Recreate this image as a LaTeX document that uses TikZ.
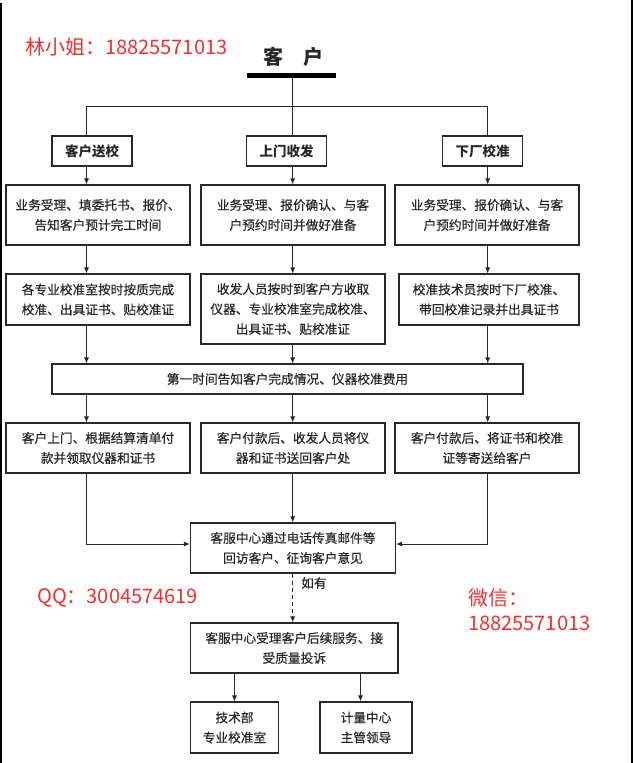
\documentclass[tikz,border=0pt]{standalone}
\usepackage{fontspec}
\setmainfont{Noto Sans CJK SC}
\newfontfamily\bodycjk[FakeBold=0.35]{Noto Sans CJK SC}
\usetikzlibrary{arrows.meta}
\definecolor{wm}{RGB}{242,48,48}
\definecolor{ink}{RGB}{40,40,40}
\begin{document}
\begin{tikzpicture}[x=1pt,y=-1pt,
  box/.style={draw=ink, line width=1.1pt, fill=white, inner sep=0pt, align=center,
    font=\bodycjk\fontsize{12.7}{20}\selectfont, text=ink},
  titlebox/.style={box, minimum width=80pt, minimum height=30pt, font=\fontsize{13.5}{16}\selectfont\bfseries},
  colbox/.style={box, minimum width=184pt},
  ln/.style={draw=ink, line width=0.9pt},
  arr/.style={ln, -{Latex[length=6pt,width=5pt]}},
  redt/.style={text=wm, inner sep=0pt, anchor=west, font=\fontsize{20}{24}\selectfont},
]
\useasboundingbox (0,0) rectangle (633,763);
\fill[white] (0,0) rectangle (633,763);
\fill[black] (0,3) rectangle (1.5,763);
\fill[black] (631,0) rectangle (633,763);

% column coordinates
\coordinate (c1) at (86.5,0);
\coordinate (c2) at (292.7,0);
\coordinate (c3) at (487.7,0);
\coordinate (split) at (292.7,106);

% watermark texts
\node[redt] (lin) at (25,47) {林小姐：18825571013};
\node[redt] (qq) at (37,598) {QQ：3004574619};
\node[redt] (wx) at (468,598) {微信：};
\node[redt] (wxn) at (468,623) {18825571013};

% title
\node[font=\fontsize{20}{24}\selectfont\bfseries, text=ink, inner sep=0pt] (kehu) at (293,57) {客\quad 户};
\node[fill=black, minimum width=89pt, minimum height=5pt, inner sep=0pt] (bar) at (291.5,75.5) {};

% top boxes
\node[titlebox] (b1) at (92,151) {客户送校};
\node[titlebox] (b2) at (286.5,151) {上门收发};
\node[titlebox] (b3) at (482.5,151) {下厂校准};

% row 2
\node[colbox, minimum height=60pt] (r2a) at (98,215) {业务受理、填委托书、报价、\\告知客户预计完工时间};
\node[colbox, minimum height=60pt] (r2b) at (293,215) {业务受理、报价确认、与客\\户预约时间并做好准备};
\node[colbox, minimum height=60pt] (r2c) at (487,215) {业务受理、报价确认、与客\\户预约时间并做好准备};

% row 3
\node[colbox, minimum height=51pt] (r3a) at (98,299.5) {各专业校准室按时按质完成\\校准、出具证书、贴校准证};
\node[colbox, minimum height=70pt] (r3b) at (293,309) {收发人员按时到客户方收取\\仪器、专业校准室完成校准、\\出具证书、贴校准证};
\node[box, minimum width=180pt, minimum height=51pt] (r3c) at (489,299.5) {校准技术员按时下厂校准、\\带回校准记录并出具证书};

% wide box
\node[box, minimum width=471pt, minimum height=30pt] (wide) at (287.5,379) {第一时间告知客户完成情况、仪器校准费用};

% row 4
\node[colbox, minimum height=50pt] (r4a) at (98,448) {客户上门、根据结算清单付\\款并领取仪器和证书};
\node[colbox, minimum height=50pt] (r4b) at (293,448) {客户付款后、收发人员将仪\\器和证书送回客户处};
\node[colbox, minimum height=50pt] (r4c) at (487,448) {客户付款后、将证书和校准\\证等寄送给客户};

% service boxes
\node[box, minimum width=205pt, minimum height=50pt] (svc) at (293,548) {客服中心通过电话传真邮件等\\回访客户、征询客户意见};
\node[box, minimum width=207.5pt, minimum height=50pt] (svc2) at (294.25,648) {客服中心受理客户后续服务、接\\受质量投诉};

% bottom boxes
\node[box, minimum width=88pt, minimum height=51pt] (d1) at (234.5,727.5) {技术部\\专业校准室};
\node[box, minimum width=92pt, minimum height=51pt] (d2) at (366,727.5) {计量中心\\主管领导};

% connectors top
\draw[ln] (bar.south -| split) -- (split);
\draw[ln] (split) -| (b1.north -| c1);
\draw[ln] (split) -- (b2.north -| c2);
\draw[ln] (split) -| (b3.north -| c3);

\draw[arr] (b1.south -| c1) -- (r2a.north -| c1);
\draw[arr] (b2.south -| c2) -- (r2b.north -| c2);
\draw[arr] (b3.south -| c3) -- (r2c.north -| c3);

\draw[arr] (r2a.south -| c1) -- (r3a.north -| c1);
\draw[arr] (r2b.south -| c2) -- (r3b.north -| c2);
\draw[arr] (r2c.south -| c3) -- (r3c.north -| c3);

\draw[arr] (r3a.south -| c1) -- (wide.north -| c1);
\draw[arr] (r3b.south -| c2) -- (wide.north -| c2);
\draw[arr] (r3c.south -| c3) -- (wide.north -| c3);

\draw[arr] (wide.south -| c1) -- (r4a.north -| c1);
\draw[arr] (wide.south -| c2) -- (r4b.north -| c2);
\draw[arr] (wide.south -| c3) -- (r4c.north -| c3);

\draw[arr] (r4a.south -| c1) |- ([yshift=4pt]svc.west);
\draw[arr] (r4b.south -| c2) -- (svc.north -| c2);
\draw[arr] (r4c.south -| c3) |- ([yshift=4pt]svc.east);

\draw[arr, line width=1.3pt, dash pattern=on 4pt off 3pt] (svc.south -| c2) -- (svc2.north -| c2);
\node[anchor=west, inner sep=0pt, font=\bodycjk\fontsize{12.7}{16}\selectfont, text=ink] (ruyou) at (301,583) {如有};

\draw[arr] (svc2.south -| d1) -- (d1.north);
\coordinate (c5) at (360.5,0);
\draw[arr] (svc2.south -| c5) -- (d2.north -| c5);
\end{tikzpicture}
\end{document}
